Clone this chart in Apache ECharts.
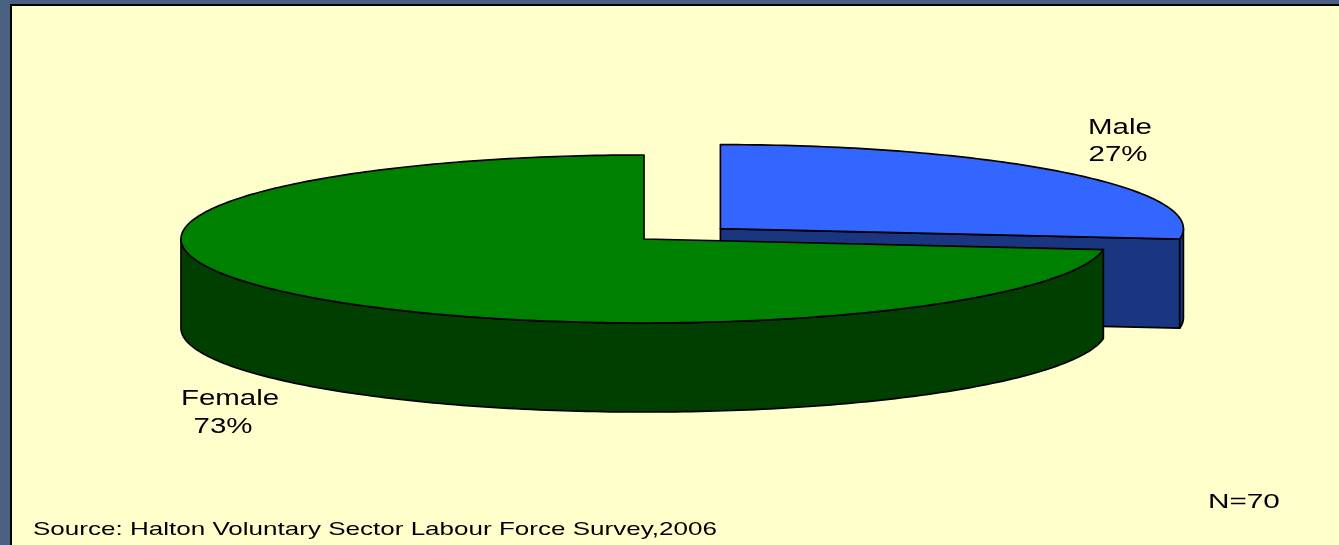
<!DOCTYPE html>
<html>
<head>
<meta charset="utf-8">
<script src="https://cdn.jsdelivr.net/npm/echarts@6/dist/echarts.min.js"></script>
<style>
  html, body { margin: 0; padding: 0; background: #4B6182; }
  #chart { width: 1339px; height: 545px; }
</style>
</head>
<body>
<div id="chart"></div>
<script>
// Workforce split by gender
const categories = ['Female', 'Male'];
const shares = [73, 27];
const sampleNote = 'N=70';
const sourceNote = 'Source: Halton Voluntary Sector Labour Force Survey,2006';

// 3D pie geometry (pixels)
const CX = 644, CY = 239, RX = 463, RY = 84, DEPTH = 89;
const explode = [0, 0.22];
const explodeLift = 0.85;   // flattens the outward shift on the vertical axis
const topColors = ['#008000', '#3366FF'];
const sideColors = ['#003F00', '#1B3680'];
const labelPos = [[[230, 399], [223, 427]], [[1120, 128], [1118, 155]]];
const FONT = '"Liberation Sans", Arial, sans-serif';
const STRETCH = 1.37;

const total = shares.reduce((s, v) => s + v, 0);

function renderSlice(params, api) {
  const i = params.dataIndex;
  let before = 0;
  for (let k = 0; k < i; k++) before += shares[k];
  const a0 = Math.PI / 2 + before / total * Math.PI * 2;
  const a1 = a0 + api.value(0) / total * Math.PI * 2;
  const mid = (a0 + a1) / 2;
  const cx = CX + RX * explode[i] * Math.cos(mid);
  const cy = CY - RY * explode[i] * explodeLift * Math.sin(mid);
  const pt = (t, dz) => [cx + RX * Math.cos(t), cy - RY * Math.sin(t) + dz];
  const arc = (t0, t1, dz) => {
    const n = Math.max(2, Math.ceil(Math.abs(t1 - t0) / (Math.PI / 180)) + 1);
    const out = [];
    for (let k = 0; k < n; k++) out.push(pt(t0 + (t1 - t0) * k / (n - 1), dz));
    return out;
  };
  const base = i === 0 ? 20 : 10;
  const edge = { stroke: '#000', lineWidth: 1.7, lineJoin: 'round' };
  const children = [];

  // flat cut faces at the slice ends, when turned toward the viewer
  const c0 = [cx, cy], c1 = [cx, cy + DEPTH];
  if (Math.cos(a0) > 1e-6) {
    children.push({ type: 'polygon', z2: base,
      shape: { points: [c0, pt(a0, 0), pt(a0, DEPTH), c1] },
      style: Object.assign({ fill: sideColors[i] }, edge) });
  }
  if (Math.cos(a1) < -1e-6) {
    children.push({ type: 'polygon', z2: base,
      shape: { points: [c0, pt(a1, 0), pt(a1, DEPTH), c1] },
      style: Object.assign({ fill: sideColors[i] }, edge) });
  }

  // outer wall on the front half of the rim
  for (let k = -1; k <= 2; k++) {
    const f0 = Math.PI + k * 2 * Math.PI, f1 = 2 * Math.PI + k * 2 * Math.PI;
    const s = Math.max(a0, f0), e = Math.min(a1, f1);
    if (e - s > 1e-4) {
      const topArc = arc(s, e, 0);
      const botArc = arc(s, e, DEPTH).reverse();
      children.push({ type: 'polygon', z2: base + 1,
        shape: { points: topArc.concat(botArc) },
        style: Object.assign({ fill: sideColors[i] }, edge) });
    }
  }

  // top face
  children.push({ type: 'polygon', z2: base + 2,
    shape: { points: [[cx, cy]].concat(arc(a0, a1, 0)) },
    style: Object.assign({ fill: topColors[i] }, edge) });

  // category label and share
  const lines = [categories[i], Math.round(api.value(0) / total * 100) + '%'];
  lines.forEach((txt, j) => {
    children.push({ type: 'text', z2: base + 3,
      x: labelPos[i][j][0], y: labelPos[i][j][1], scaleX: STRETCH,
      style: { text: txt, x: 0, y: 0, align: 'center', verticalAlign: 'middle',
        fill: '#000', font: '21.5px ' + FONT } });
  });

  return { type: 'group', children: children };
}

const chart = echarts.init(document.getElementById('chart'), null, { renderer: 'canvas' });
chart.setOption({
  backgroundColor: '#4B6182',
  animation: false,
  graphic: [
    { type: 'rect', z: -10, shape: { x: 10, y: 4, width: 1329, height: 541 }, style: { fill: '#000' }, silent: true },
    { type: 'rect', z: -9, shape: { x: 12, y: 6, width: 1327, height: 539 }, style: { fill: '#FFFFCC' }, silent: true },
    { type: 'text', z: 5, x: 1208, y: 502, scaleX: 1.45,
      style: { text: sampleNote, x: 0, y: 0, align: 'left', verticalAlign: 'middle', fill: '#000', font: '20.5px ' + FONT } },
    { type: 'text', z: 5, x: 33, y: 530, scaleX: STRETCH,
      style: { text: sourceNote, x: 0, y: 0, align: 'left', verticalAlign: 'middle', fill: '#000', font: '19px ' + FONT } }
  ],
  series: [{
    type: 'custom',
    coordinateSystem: 'none',
    renderItem: renderSlice,
    data: shares.map((v, i) => ({ name: categories[i], value: [v] }))
  }]
});
</script>
</body>
</html>
